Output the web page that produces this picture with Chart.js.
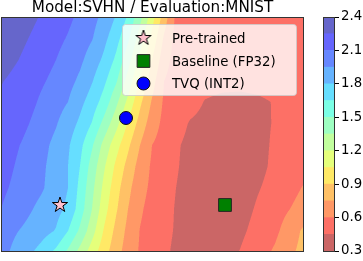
<!DOCTYPE html>
<html><head><meta charset="utf-8">
<script src="https://cdn.jsdelivr.net/npm/chart.js@4/dist/chart.umd.min.js"></script>
<style>
html,body{margin:0;padding:0;background:#fff;}
#wrap{position:relative;width:363px;height:261px;overflow:hidden;}
canvas{position:absolute;left:0;top:0;}
</style>
</head><body>
<div id="wrap"><canvas id="main" width="363" height="261"></canvas><canvas id="cbar" width="363" height="261"></canvas></div>
<script>
// ---- data ----
const titleText = 'Model:SVHN / Evaluation:MNIST';
// grid node coordinates (axis units, ticks hidden)
const gridX = [0, 20, 40, 55, 67, 79, 91, 103, 115, 127, 139, 151, 163, 175, 189, 204, 221, 239, 257, 274, 289, 303];
const gridY = [235, 214, 192, 171, 150, 128, 107, 86, 64, 43, 21, 0];
// loss value at each node, rows from top (y=235) to bottom (y=0)
const gridZ = [
  [2.38, 2.32, 2.24, 2.18, 2.13, 2.07, 2.00, 1.91, 1.79, 1.63, 1.40, 1.11, 0.83, 0.57, 0.53, 0.51, 0.51, 0.51, 0.51, 0.52, 0.53, 0.55],
  [2.36, 2.28, 2.20, 2.14, 2.09, 2.03, 1.96, 1.84, 1.71, 1.53, 1.28, 1.01, 0.73, 0.55, 0.52, 0.50, 0.50, 0.50, 0.50, 0.51, 0.52, 0.54],
  [2.32, 2.24, 2.16, 2.10, 2.04, 1.98, 1.88, 1.77, 1.62, 1.41, 1.16, 0.90, 0.66, 0.54, 0.51, 0.495, 0.49, 0.49, 0.49, 0.50, 0.51, 0.53],
  [2.26, 2.19, 2.12, 2.06, 2.00, 1.92, 1.81, 1.68, 1.52, 1.29, 1.03, 0.81, 0.60, 0.53, 0.50, 0.485, 0.475, 0.475, 0.48, 0.49, 0.50, 0.52],
  [2.22, 2.18, 2.08, 2.01, 1.95, 1.84, 1.73, 1.59, 1.39, 1.16, 0.93, 0.735, 0.58, 0.54, 0.49, 0.445, 0.43, 0.425, 0.435, 0.455, 0.47, 0.49],
  [2.20, 2.14, 2.04, 1.96, 1.87, 1.77, 1.64, 1.45, 1.25, 1.03, 0.84, 0.67, 0.56, 0.50, 0.44, 0.42, 0.405, 0.40, 0.415, 0.46, 0.48, 0.50],
  [2.18, 2.095, 2.00, 1.91, 1.82, 1.69, 1.52, 1.30, 1.11, 0.93, 0.75, 0.60, 0.54, 0.465, 0.42, 0.405, 0.39, 0.385, 0.41, 0.47, 0.49, 0.52],
  [2.16, 2.07, 1.98, 1.89, 1.80, 1.65, 1.44, 1.22, 1.02, 0.85, 0.69, 0.58, 0.52, 0.46, 0.415, 0.39, 0.375, 0.375, 0.41, 0.48, 0.52, 0.56],
  [2.13, 2.05, 1.97, 1.88, 1.80, 1.61, 1.39, 1.16, 0.96, 0.79, 0.65, 0.57, 0.51, 0.45, 0.41, 0.38, 0.365, 0.37, 0.44, 0.50, 0.56, 0.61],
  [2.10, 2.01, 1.91, 1.85, 1.77, 1.58, 1.35, 1.11, 0.92, 0.75, 0.62, 0.55, 0.50, 0.44, 0.40, 0.375, 0.365, 0.39, 0.47, 0.54, 0.60, 0.65],
  [2.02, 1.94, 1.86, 1.79, 1.65, 1.47, 1.26, 1.035, 0.86, 0.71, 0.595, 0.54, 0.48, 0.44, 0.405, 0.38, 0.375, 0.42, 0.50, 0.57, 0.67, 0.78],
  [2.00, 1.88, 1.75, 1.615, 1.47, 1.30, 1.125, 0.96, 0.81, 0.68, 0.585, 0.53, 0.47, 0.43, 0.40, 0.385, 0.39, 0.455, 0.54, 0.62, 0.72, 0.80]
];
const levels = [0.3, 0.45, 0.6, 0.75, 0.9, 1.05, 1.2, 1.35, 1.5, 1.65, 1.8, 1.95, 2.1, 2.25, 2.4];
const colorbarTicks = [0.3, 0.6, 0.9, 1.2, 1.5, 1.8, 2.1, 2.4];
const pretrainedPts = [{x: 59, y: 47}];
const baselinePts = [{x: 224, y: 47}];
const tvqPts = [{x: 125, y: 134}];
const seriesLabels = ['Pre-trained', 'Baseline (FP32)', 'TVQ (INT2)'];

// ---- styling ----
const FONT = "'DejaVu Sans', 'Liberation Sans', sans-serif";
function seg(pts, x) {
  for (let i = 1; i < pts.length; i++) {
    if (x <= pts[i][0]) {
      const [x0, y0] = pts[i - 1], [x1, y1] = pts[i];
      return y0 + (y1 - y0) * (x - x0) / (x1 - x0);
    }
  }
  return pts[pts.length - 1][1];
}
function jet(v) {
  return [
    seg([[0, 0], [0.35, 0], [0.66, 1], [0.89, 1], [1, 0.5]], v),
    seg([[0, 0], [0.125, 0], [0.375, 1], [0.64, 1], [0.91, 0], [1, 0]], v),
    seg([[0, 0.5], [0.11, 1], [0.34, 1], [0.65, 0], [1, 0]], v)
  ];
}
const nBands = levels.length - 1;
const bandRGB = [];
for (let i = 0; i < nBands; i++) {
  const c = jet(1 - (i + 0.5) / nBands);
  bandRGB.push(c.map(ch => Math.round(255 * (0.6 * ch + 0.4))));
}
const bandCSS = bandRGB.map(c => `rgb(${c[0]},${c[1]},${c[2]})`);

function sampleZ(x, y) {
  let i = 0;
  while (i < gridX.length - 2 && x > gridX[i + 1]) i++;
  let j = 0;
  while (j < gridY.length - 2 && y < gridY[j + 1]) j++;
  const tx = Math.min(1, Math.max(0, (x - gridX[i]) / (gridX[i + 1] - gridX[i])));
  const ty = Math.min(1, Math.max(0, (gridY[j] - y) / (gridY[j] - gridY[j + 1])));
  const z00 = gridZ[j][i], z01 = gridZ[j][i + 1], z10 = gridZ[j + 1][i], z11 = gridZ[j + 1][i + 1];
  return (z00 * (1 - tx) + z01 * tx) * (1 - ty) + (z10 * (1 - tx) + z11 * tx) * ty;
}
function bandOf(z) {
  let k = 0;
  while (k < nBands - 1 && z >= levels[k + 1]) k++;
  return k;
}

const contourPlugin = {
  id: 'contour',
  beforeDatasetsDraw(chart) {
    const {ctx, chartArea: a, scales: {x: xs, y: ys}} = chart;
    const L = Math.round(a.left), T = Math.round(a.top);
    const W = Math.round(a.right) - L, H = Math.round(a.bottom) - T;
    const off = document.createElement('canvas');
    off.width = W; off.height = H;
    const octx = off.getContext('2d');
    const img = octx.createImageData(W, H);
    const S = 3;
    for (let py = 0; py < H; py++) {
      for (let px = 0; px < W; px++) {
        let r = 0, g = 0, b = 0;
        for (let sy = 0; sy < S; sy++) {
          const dy = ys.getValueForPixel(T + py + (sy + 0.5) / S);
          for (let sx = 0; sx < S; sx++) {
            const dx = xs.getValueForPixel(L + px + (sx + 0.5) / S);
            const c = bandRGB[bandOf(sampleZ(dx, dy))];
            r += c[0]; g += c[1]; b += c[2];
          }
        }
        const o = (py * W + px) * 4;
        img.data[o] = r / (S * S); img.data[o + 1] = g / (S * S); img.data[o + 2] = b / (S * S); img.data[o + 3] = 255;
      }
    }
    octx.putImageData(img, 0, 0);
    ctx.drawImage(off, L, T);
  }
};

const framePlugin = {
  id: 'frame',
  afterDraw(chart) {
    const {ctx, chartArea: a} = chart;
    ctx.save();
    ctx.strokeStyle = '#333';
    ctx.lineWidth = 1;
    ctx.strokeRect(Math.round(a.left) + 0.5, Math.round(a.top) + 0.5, Math.round(a.right - a.left) - 1, Math.round(a.bottom - a.top) - 1);
    ctx.restore();
  }
};

const legendPlugin = {
  id: 'boxLegend',
  afterDatasetsDraw(chart) {
    const ctx = chart.ctx;
    const bx = 122.5, by = 24.5, bw = 174, bh = 71;
    ctx.save();
    ctx.beginPath();
    ctx.roundRect(bx, by, bw, bh, 3);
    ctx.fillStyle = 'rgba(255,255,255,0.8)';
    ctx.fill();
    ctx.strokeStyle = 'rgba(204,204,204,0.8)';
    ctx.lineWidth = 1;
    ctx.stroke();
    const rowsY = [38, 61, 83.5];
    chart.data.datasets.forEach((ds, i) => {
      ctx.fillStyle = ds.backgroundColor;
      ctx.strokeStyle = ds.borderColor;
      ctx.lineWidth = ds.borderWidth;
      Chart.helpers.drawPoint(ctx, {pointStyle: ds.pointStyle, radius: ds.pointRadius, rotation: 0, borderWidth: ds.borderWidth}, 143.5, rowsY[i]);
      ctx.fillStyle = '#000';
      ctx.font = `13.3px ${FONT}`;
      ctx.textBaseline = 'alphabetic';
      ctx.textAlign = 'left';
      ctx.fillText(ds.label, 172, rowsY[i] + 4.6);
    });
    ctx.restore();
  }
};

function makeStar() {
  const c = document.createElement('canvas');
  c.width = 18; c.height = 18;
  const g = c.getContext('2d');
  const R = 8, r = R * 0.381966;
  g.beginPath();
  for (let k = 0; k < 10; k++) {
    const ang = -Math.PI / 2 + k * Math.PI / 5;
    const rad = k % 2 ? r : R;
    g.lineTo(9 + rad * Math.cos(ang), 9 + rad * Math.sin(ang));
  }
  g.closePath();
  g.fillStyle = '#ffc0cb';
  g.fill();
  g.lineWidth = 1;
  g.strokeStyle = '#000';
  g.stroke();
  return c;
}
const starImg = makeStar();

new Chart(document.getElementById('main'), {
  type: 'scatter',
  data: {
    datasets: [
      {label: seriesLabels[0], data: pretrainedPts, pointStyle: starImg, pointRadius: 8, backgroundColor: '#ffc0cb', borderColor: '#000', borderWidth: 1},
      {label: seriesLabels[1], data: baselinePts, pointStyle: 'rect', pointRadius: 9, backgroundColor: '#008000', borderColor: '#222', borderWidth: 1},
      {label: seriesLabels[2], data: tvqPts, pointStyle: 'circle', pointRadius: 6.5, backgroundColor: '#0000ff', borderColor: '#111', borderWidth: 1}
    ]
  },
  options: {
    responsive: false, animation: false, devicePixelRatio: 1,
    layout: {autoPadding: false, padding: {left: 1, top: 0, right: 59, bottom: 9}},
    scales: {
      x: {type: 'linear', min: 0, max: 303, display: false},
      y: {type: 'linear', min: 0, max: 235, display: false}
    },
    plugins: {
      legend: {display: false},
      tooltip: {enabled: false},
      title: {display: true, text: titleText, fullSize: false, color: '#000',
        font: {family: FONT, size: 15.2, weight: 'normal', lineHeight: 1}, padding: {top: 0, bottom: 1.8}}
    }
  },
  plugins: [contourPlugin, legendPlugin, framePlugin]
});

const outlinePlugin = {
  id: 'outline',
  afterDraw(chart) {
    const {ctx, chartArea: a} = chart;
    ctx.save();
    ctx.strokeStyle = '#333';
    ctx.lineWidth = 1;
    ctx.strokeRect(Math.round(a.left) + 0.5, Math.round(a.top) + 0.5, Math.round(a.right - a.left) - 1, Math.round(a.bottom - a.top));
    ctx.restore();
  }
};

new Chart(document.getElementById('cbar'), {
  type: 'bar',
  data: {
    labels: ['z'],
    datasets: levels.slice(0, -1).map((lo, i) => ({
      data: [[lo, levels[i + 1]]], backgroundColor: bandCSS[i], borderWidth: 0,
      barPercentage: 1, categoryPercentage: 1, grouped: false
    }))
  },
  options: {
    responsive: false, animation: false, devicePixelRatio: 1,
    layout: {autoPadding: false, padding: {left: 323, top: 17, right: 0, bottom: 9}},
    plugins: {legend: {display: false}, tooltip: {enabled: false}},
    scales: {
      x: {display: false},
      y: {
        position: 'right', min: levels[0], max: levels[levels.length - 1],
        afterBuildTicks(s) { s.ticks = colorbarTicks.map(v => ({value: v})); },
        afterFit(s) { s.width = 28; },
        ticks: {color: '#000', padding: 2, font: {family: FONT, size: 13.3}, callback: v => Number(v).toFixed(1)},
        grid: {drawOnChartArea: false, drawTicks: true, tickLength: 4, color: '#000', lineWidth: 1},
        border: {display: false}
      }
    }
  },
  plugins: [outlinePlugin]
});
</script>
</body></html>
